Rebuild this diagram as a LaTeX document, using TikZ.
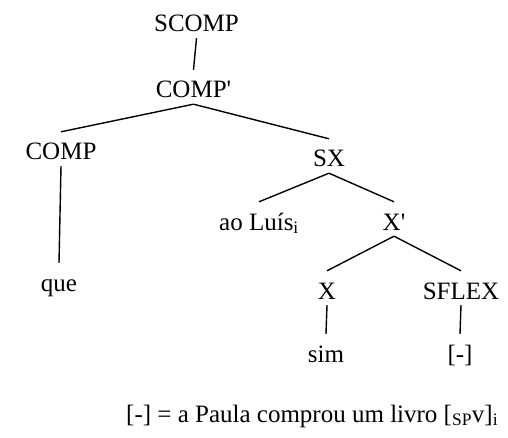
\documentclass[tikz,border=0pt]{standalone}
\usepackage{fontspec}
\setmainfont{Liberation Serif}
\usepackage{tikz}

\tikzset{
  lbl/.style={anchor=base,inner sep=0pt,text height=28pt,text depth=6pt},
  branch/.style={line width=1.4pt}
}

\begin{document}
\begin{tikzpicture}[x=1pt,y=-1pt,font=\fontsize{25}{30}\selectfont]
  \useasboundingbox (0,0) rectangle (508,438);
  \node[lbl] (scomp) at (196.5,32) {SCOMP};
  \node[lbl] (compbar) at (193.5,98) {COMP\textquotesingle};
  \node[lbl] (comp) at (61,160) {COMP};
  \node[lbl] (sx) at (329,167) {SX};
  \node[lbl] (que) at (59,291) {que};
  \node[lbl] (luis) at (259,230) {ao Luís\textsubscript{i}};
  \node[lbl] (xbar) at (394,230) {X\textquotesingle};
  \node[lbl] (x) at (327,299) {X};
  \node[lbl] (sflex) at (461,299) {SFLEX};
  \node[lbl] (sim) at (326,362) {sim};
  \node[lbl] (gap) at (460,362) {[-]};
  \node[anchor=base west,inner sep=0pt] (eq) at (126,422)
    {[-] = a Paula comprou um livro [\textsubscript{SP}v]\textsubscript{i}};
  \draw[branch] (scomp.south) -- (compbar.north);
  \draw[branch] (compbar.south) -- (comp.north);
  \draw[branch] (compbar.south) -- (sx.north);
  \draw[branch] (comp.south) -- (que.north);
  \draw[branch] (sx.south) -- (luis.north);
  \draw[branch] (sx.south) -- (xbar.north);
  \draw[branch] (xbar.south) -- (x.north);
  \draw[branch] (xbar.south) -- (sflex.north);
  \draw[branch] (x.south) -- (sim.north);
  \draw[branch] (sflex.south) -- (gap.north);
\end{tikzpicture}
\end{document}
